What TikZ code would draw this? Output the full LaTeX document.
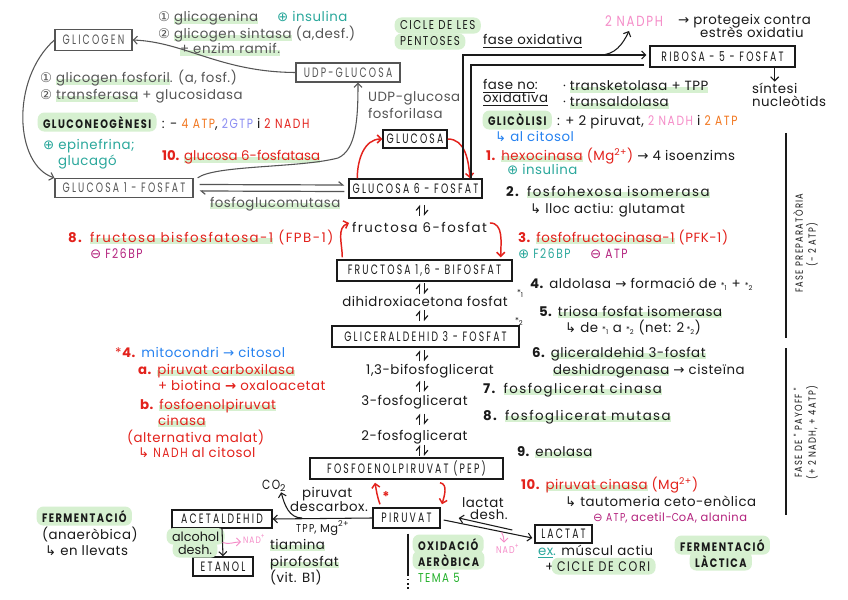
\documentclass[tikz,border=0pt]{standalone}
\usepackage{fontspec}
\setmainfont{Poppins}[LetterSpace=4]
\newfontfamily\tightf{Poppins}
\newfontfamily\widef{Poppins}[LetterSpace=11]
\newfontfamily\symf{DejaVu Sans}
\newfontfamily\capsf[LetterSpace=16,FakeStretch=0.68]{Poppins}
\newfontfamily\capsw[LetterSpace=12,FakeStretch=0.8]{Poppins}
\usetikzlibrary{arrows.meta,calc,backgrounds}
\definecolor{cred}{HTML}{E3221C}
\definecolor{cteal}{HTML}{2BA89C}
\definecolor{cpink}{HTML}{F58CC8}
\definecolor{corange}{HTML}{F2761E}
\definecolor{clav}{HTML}{8A8CF2}
\definecolor{cblue}{HTML}{2682F0}
\definecolor{cmag}{HTML}{B4237E}
\definecolor{chl}{HTML}{D6F0D0}
\definecolor{cgreen}{HTML}{22B02A}
\definecolor{cgray}{HTML}{555555}
\definecolor{cink}{HTML}{1A1A1A}
\newcommand\Ftx{\fontsize{10}{12}\selectfont}
\newcommand\Fcp{\capsf\fontsize{10.2}{12}\selectfont}
\newcommand\Fcb{\capsw\bfseries\fontsize{9.2}{11}\selectfont}
\newcommand\Fcc{\capsw\fontsize{11}{13}\selectfont}
\newcommand\Fsm{\fontsize{6}{7}\selectfont}
\newcommand\Sar{{\symf\char"2192}}
\newcommand\Shk{{\symf\char"21B3}}
\newcommand\Splus{{\symf\char"2295}}
\newcommand\Sminus{{\symf\char"2296}}
\newcommand\Sone{{\symf\char"2460}}
\newcommand\Stwo{{\symf\char"2461}}
\newcommand\Sst[1]{{\Fsm*\textsubscript{#1}}}
\newcommand\Cp[1]{{\capsw #1}}
\newsavebox\hlbox
\newcommand\hlu[1]{\sbox\hlbox{#1}\rlap{\textcolor{chl}{\rule[-1.6pt]{\wd\hlbox}{4.4pt}}}\usebox\hlbox}
\tikzset{
 t/.style={anchor=base west, inner sep=0pt, outer sep=0pt, font=\Ftx, text=cink},
 tc/.style={t, anchor=base},
 wd/.style={font=\widef\Ftx},
 tg/.style={font=\tightf\Ftx},
 bx/.style={draw=cink, line width=1.1pt, inner sep=0pt, font=\Fcp, text=cink},
 gbx/.style={bx, draw=cgray, text=cgray, line width=1pt},
 bxs/.style 2 args={minimum width=#1*0.75pt, minimum height=#2*0.75pt},
 hf/.style={t, font=\Fcb, fill=chl, rounded corners=5pt, inner xsep=4pt, inner ysep=2.6pt, xshift=-4pt},
 arr/.style={draw=cink, line width=0.8pt, -{Straight Barb[length=3pt,width=6pt]}},
 garr/.style={arr, draw=cgray},
 rarr/.style={arr, draw=cred, line width=1.1pt},
 parr/.style={arr, draw=cpink, line width=0.7pt},
 hu/.style={draw=cink, line width=0.9pt, -{Straight Barb[left,length=3pt,width=5pt]}},
 ghu/.style={hu, draw=cgray},
 phase/.style={inner sep=0pt, rotate=90, font=\capsw\fontsize{7.8}{9}\selectfont, text=cink}
}
\begin{document}
\begin{tikzpicture}[x=0.75pt,y=-0.75pt]
\fill[white] (0,0) rectangle (848,599);
\useasboundingbox (0,0) rectangle (848,599);
% ---------- boxes
\node[gbx, bxs={77}{21}] (glicogen) at (93.5,40) {GLICOGEN};
\node[gbx, bxs={104}{19}] (udpg) at (348,72.5) {UDP-GLUCOSA};
\node[gbx, bxs={138}{19}] (g1p) at (124,188) {GLUCOSA 1 - FOSFAT};
\node[bx, bxs={64}{18}] (glucosa) at (415,139) {GLUCOSA};
\node[bx, bxs={133}{19}] (g6p) at (415.5,188.5) {GLUCOSA 6 - FOSFAT};
\node[bx, bxs={145}{21}] (ribosa) at (722.5,56.5) {RIBOSA - 5 - FOSFAT};
\node[bx, bxs={175}{21}] (f16bp) at (424.5,270.5) {FRUCTOSA 1,6 - BIFOSFAT};
\node[bx, bxs={187}{21}] (gap) at (425.5,336.5) {GLICERALDEHID 3 - FOSFAT};
\node[bx, bxs={193}{21}] (pep) at (406.5,468.5) {FOSFOENOLPIRUVAT (PEP)};
\node[bx, bxs={67}{20}] (piruvat) at (406.5,518) {PIRUVAT};
\node[bx, bxs={100}{18}] (acetal) at (222,519) {ACETALDEHID};
\node[bx, bxs={60}{19}] (etanol) at (223,566.5) {ETANOL};
\node[bx, bxs={57}{18}] (lactat) at (563.5,534) {LACTAT};
% ---------- glycogen texts
\node[t, text=cgray] (g1) at (158,22) {\Sone\ \hlu{glicogenina}};
\node[t, text=cteal] (ins1) at (277,22) {\Splus\ insulina};
\node[t, text=cgray] (g2) at (158,39) {\Stwo\ \hlu{glicogen sintasa} (a,desf.)};
\node[t, text=cgray] (g3) at (180,54) {\hlu{+ enzim ramif.}};
\node[t, text=cgray] (f1) at (40,83) {\Sone\ \hlu{glicogen fosforil}. (a, fosf.)};
\node[t, text=cgray] (f2) at (40,100) {\Stwo\ \hlu{transferasa} + glucosidasa};
\node[hf] (gng) at (43,128) {GLUCONEOGÈNESI};
\node[t, xshift=4pt] (gngr) at (gng.base east) {: - \textcolor{corange}{\Cp{4 ATP}}, \textcolor{clav}{\Cp{2GTP}} i \textcolor{cred}{\Cp{2 NADH}}};
\node[t, text=cteal] (epi) at (43,150) {\Splus\ epinefrina;};
\node[t, text=cteal] (glucago) at (58,166) {glucagó};
\node[t, tg, text=cred] (g6pase) at (162,161) {\textbf{10.} \hlu{glucosa 6-fosfatasa}};
\node[t, text=cgray] (pgm) at (210,207) {\hlu{fosfoglucomutasa}};
\node[t, text=cgray] (udpgp1) at (368,102) {UDP-glucosa};
\node[t, text=cgray] (udpgp2) at (368,119) {fosforilasa};
% ---------- pentoses
\node[hf, font=\capsw\fontsize{9.6}{11}\selectfont] (cicle1) at (400,30) {CICLE DE LES};
\node[hf, font=\capsw\fontsize{9.6}{11}\selectfont] (cicle2) at (400,46) {PENTOSES};
\node[t] (foxi) at (483,45) {\underline{fase oxidativa}};
\node[t, text=cpink, font=\Fcc] (nadph) at (605,27) {2 NADPH};
\node[t] (prot1) at (678,25) {\Sar\ protegeix contra};
\node[t] (prot2) at (700,38) {estrès oxidatiu};
\node[t] (sint1) at (752,94) {síntesi};
\node[t] (sint2) at (752,107) {nucleòtids};
\node[t] (fno1) at (483,90) {\underline{fase no}:};
\node[t] (fno2) at (483,103) {\underline{oxidativa}};
\node[t] (tk) at (563,91) {· \hlu{transketolasa + TPP}};
\node[t] (ta) at (563,107) {· \hlu{transaldolasa}};
% ---------- glycolysis texts
\node[hf] (glic) at (488,126) {GLICÒLISI};
\node[t, xshift=4pt] (glicr) at (glic.base east) {: + 2 piruvat, \textcolor{cpink}{\Cp{2 NADH}} i \textcolor{corange}{\Cp{2 ATP}}};
\node[t, text=cblue] (citosol) at (495,142) {\Shk\ al citosol};
\node[t] (s1) at (486,160) {\textcolor{cred}{\textbf{1.} \hlu{hexocinasa} (Mg\textsuperscript{2+})} \Sar\ 4 isoenzims};
\node[t, text=cteal] (s1b) at (507,174) {\Splus\ insulina};
\node[t, wd] (s2) at (506,196) {\textbf{2.} \hlu{fosfohexosa isomerasa}};
\node[t] (s2b) at (530,213) {\Shk\ lloc actiu: glutamat};
\node[t, text=cred] (s3) at (518,242) {\textbf{3.} \hlu{fosfofructocinasa-1} (PFK-1)};
\node[t, text=cteal] (s3b) at (518,258) {\Splus\ \Cp{F26BP}};
\node[t, text=cmag] (s3c) at (590,258) {\Sminus\ \Cp{ATP}};
\node[t] (s4) at (530,288) {\textbf{4.} aldolasa \Sar\ formació de \Sst1 + \Sst2};
\node[t] (s5) at (539,316) {\textbf{5.} \hlu{triosa fosfat isomerasa}};
\node[t] (s5b) at (565,332) {\Shk\ de \Sst1 a \Sst2\ (net: 2\,\Sst2)};
\node[t] (s6) at (532,357) {\textbf{6.} \hlu{gliceraldehid 3-fosfat}};
\node[t] (s6b) at (553,374) {\hlu{deshidrogenasa} \Sar\ cisteïna};
\node[t, wd] (s7) at (483,393) {\textbf{7.} \hlu{fosfoglicerat cinasa}};
\node[t, wd] (s8) at (483,420) {\textbf{8.} \hlu{fosfoglicerat mutasa}};
\node[t] (s9) at (517,456) {\textbf{9.} \hlu{enolasa}};
\node[t, text=cred] (s10) at (521,489) {\textbf{10.} \hlu{piruvat cinasa} (Mg\textsuperscript{2+})};
\node[t] (s10b) at (565,506) {\Shk\ tautomeria ceto-enòlica};
\node[t, text=cmag, font=\fontsize{8.6}{10}\selectfont] (s10c) at (593,521) {\Sminus\ \Cp{ATP}, acetil-\Cp{C}oA, alanina};
\node[t, wd, text=cred] (fbp) at (68,242) {\textbf{8.} \hlu{fructosa bisfosfatosa-1} (FPB-1)};
\node[t, text=cmag] (fbpb) at (90,258) {\Sminus\ \Cp{F26BP}};
% ---------- gluconeogenesis bypass
\node[t, text=cblue] (m4) at (115,357) {\textcolor{cred}{*\textbf{4.}} mitocondri \Sar\ citosol};
\node[t, text=cred] (ma) at (138,374) {\textbf{a.} \hlu{piruvat carboxilasa}};
\node[t, text=cred] (mab) at (158,390) {+ biotina {\bfseries\Sar} oxaloacetat};
\node[t, text=cred] (mb) at (140,409) {\textbf{b.} \hlu{fosfoenolpiruvat}};
\node[t, text=cred] (mb2) at (158,425) {\hlu{cinasa}};
\node[t, text=cred] (mb3) at (127,442) {(alternativa malat)};
\node[t, text=cred] (mb4) at (138,457) {\Shk\ \Cp{NADH} al citosol};
% ---------- central chain texts
\node[tc, wd] (f6p) at (419.5,232) {fructosa 6-fosfat};
\node[tc] (dhap) at (425,306) {dihidroxiacetona fosfat};
\node[t] (star1) at (517,295) {\Sst1};
\node[t] (star2) at (515,323) {\Sst2};
\node[tc] (bpg13) at (430,374) {1,3-bifosfoglicerat};
\node[tc] (pg3) at (414.5,405) {3-fosfoglicerat};
\node[tc] (pg2) at (414.5,440) {2-fosfoglicerat};
% ---------- bottom texts
\node[t] (co2) at (262,489) {\Cp{CO}\textsubscript{2}};
\node[t] (pd1) at (302,497) {piruvat};
\node[t] (pd2) at (290,511) {descarbox.};
\node[t, font=\fontsize{8.6}{10}\selectfont] (tpp) at (296,532) {\Cp{TPP}, Mg\textsuperscript{2+}};
\node[t] (tia) at (270,549) {\hlu{tiamina}};
\node[t] (piro) at (270,566) {\hlu{pirofosfat}};
\node[t] (vit) at (270,582) {(vit. B1)};
\node[hf, font=\tightf\fontsize{9.6}{11}\selectfont] (alc1) at (172,541) {alcohol};
\node[hf, font=\tightf\fontsize{9.6}{11}\selectfont] (alc2) at (178,554) {desh.};
\node[t, text=cpink, font=\capsw\fontsize{7}{8}\selectfont] (nad1) at (243,543) {NAD\textsuperscript{+}};
\node[hf] (ferm1) at (42,522) {FERMENTACIÓ};
\node[t] (ferm2) at (42,539) {(anaeròbica)};
\node[t] (ferm3) at (45,555) {\Shk\ en llevats};
\node[t] (ld1) at (462,507) {lactat};
\node[t] (ld2) at (470,519) {desh.};
\node[t, text=cpink, font=\capsw\fontsize{7.4}{8}\selectfont] (nad2) at (496,553) {NAD\textsuperscript{+}};
\node[hf] (oxi1) at (418,550) {OXIDACIÓ};
\node[hf] (oxi2) at (418,566) {AERÒBICA};
\node[t, text=cgreen, font=\capsw\fontsize{9.6}{11}\selectfont] (tema) at (418,582) {TEMA 5};
\node[t] (ex) at (538,555) {\textcolor{cteal}{\underline{ex}.} múscul actiu};
\node[t] (cori0) at (545,571) {+};
\node[hf, font=\capsw\fontsize{10.4}{12}\selectfont] (cori) at (557,571) {CICLE DE CORI};
\node[hf] (fl1) at (680,551) {FERMENTACIÓ};
\node[hf] (fl2) at (695,567) {LÀCTICA};
% ---------- phase labels
\draw[line width=1.3pt, cink] (786,133) -- (786,338);
\node[phase] (ph1) at (798,243) {FASE PREPARATÒRIA};
\node[phase] (ph1b) at (812,245) {(- 2 ATP)};
\draw[line width=1.3pt, cink] (786,348) -- (786,515);
\node[phase] (ph2) at (798,433) {FASE DE " PAYOFF "};
\node[phase] (ph2b) at (812,433) {(+ 2 NADH, + 4ATP)};
% ---------- glycogen connectors
\draw[garr] (udpg.west) .. controls (220,72) and (185,42) .. (glicogen.east);
\draw[garr] (glicogen.west) .. controls (10,80) and (15,165) .. (g1p.north west);
\coordinate (ux) at (358,0);
\draw[garr] ($(g1p.north east)+(4,0)$) .. controls (215,165) and (300,168) .. (338,158) .. controls (356,150) and (358,120) .. (udpg.south -| ux);
\draw[ghu] ($(g1p.east)+(6,-3.5)$) -- ($(g6p.west)+(-4,-3.5)$);
\draw[ghu] ($(g6p.west)+(-4,3)$) -- ($(g1p.east)+(6,3)$);
% ---------- red regulation arrows
\draw[rarr] ($(g6p.north west)+(9,0)$) to[out=90,in=180] (glucosa.west);
\coordinate (hx) at (470,0);
\draw[rarr] (glucosa.east) to[out=0,in=95] (g6p.north -| hx);
\draw[rarr] ($(f16bp.north west)+(6,-2)$) to[out=90,in=200] ($(f6p.west)+(-3,-4)$);
\draw[rarr] ($(f6p.east)+(3,-4)$) to[out=0,in=90] ($(f16bp.north east)+(-12,-2)$);
\coordinate (rx1) at (440,0);
\coordinate (rx2) at (378,0);
\draw[rarr] ($(pep.south -| rx1)+(0,3)$) to[out=-10,in=75] ($(piruvat.north -| rx1)+(2,-3)$);
\draw[rarr] ($(piruvat.north -| rx2)+(2,-3)$) to[out=110,in=-80] ($(pep.south -| rx2)+(-3,3)$);
\node[text=cred, inner sep=0pt, font=\bfseries\Ftx] (rstar) at (386,497) {*};
% ---------- pentose phosphate lines
\coordinate (po) at (463,55);
\coordinate (pi) at (471,65);
\draw[arr] (g6p.north -| po) -- (po) -- ($(po -| ribosa.west)+(-3,0)$);
\draw[draw=cink, line width=0.8pt] ($(pi -| ribosa.west)+(-5,0)$) -- (pi) -- (g6p.north -| pi);
\coordinate (pbr) at (600,55);
\draw[arr] (pbr) to[out=0,in=-115] ($(nadph.south west)+(24,4)$);
\draw[arr] (ribosa.south -| sint1.north) -- ($(sint1.north)+(0,-2)$);
% ---------- equilibrium harpoons
\coordinate (eqa) at (419.5,0);
\coordinate (eqb) at (424.5,0);
\foreach \a/\b in {g6p/f6p, f16bp/dhap, dhap/gap, gap/bpg13, bpg13/pg3, pg3/pg2, pg2/pep}{
  \path ($(\a.south)!0.5!(\b.north)$) coordinate (m);
  \draw[hu] ($(m -| eqa)+(0,5.5)$) -- ($(m -| eqa)+(0,-5.5)$);
  \draw[hu] ($(m -| eqb)+(0,-5.5)$) -- ($(m -| eqb)+(0,5.5)$);
}
% ---------- pyruvate fates
\draw[arr] (piruvat.west) -- (acetal.east);
\coordinate (cb) at (302,518);
\draw[arr] (cb) to[out=180,in=-75] ($(co2.south)+(7,1)$);
\draw[arr] (acetal.south) -- (etanol.north);
\draw[parr] ($(acetal.south)!0.5!(etanol.north)$) to[out=-20,in=180] ($(nad1.west)+(-2,3)$);
\draw[arr] ($(piruvat.east)+(3,2)$) -- ($(lactat.west)+(-2,4)$);
\draw[arr] ($(lactat.west)+(-22,-4)$) -- ($(piruvat.east)+(18,0)$);
\draw[parr] ($(lactat.west)+(-33,-2)$) to[out=-60,in=90] ($(nad2.north west)+(8,-2)$);
\draw[draw=cink, line width=1.2pt] ($(piruvat.south)+(1.5,5)$) -- ($(piruvat.south)+(1.5,47)$);
\draw[draw=cink, line width=1.2pt, dotted] ($(piruvat.south)+(1.5,50)$) -- ($(piruvat.south)+(1.5,60)$);
\end{tikzpicture}
\end{document}
